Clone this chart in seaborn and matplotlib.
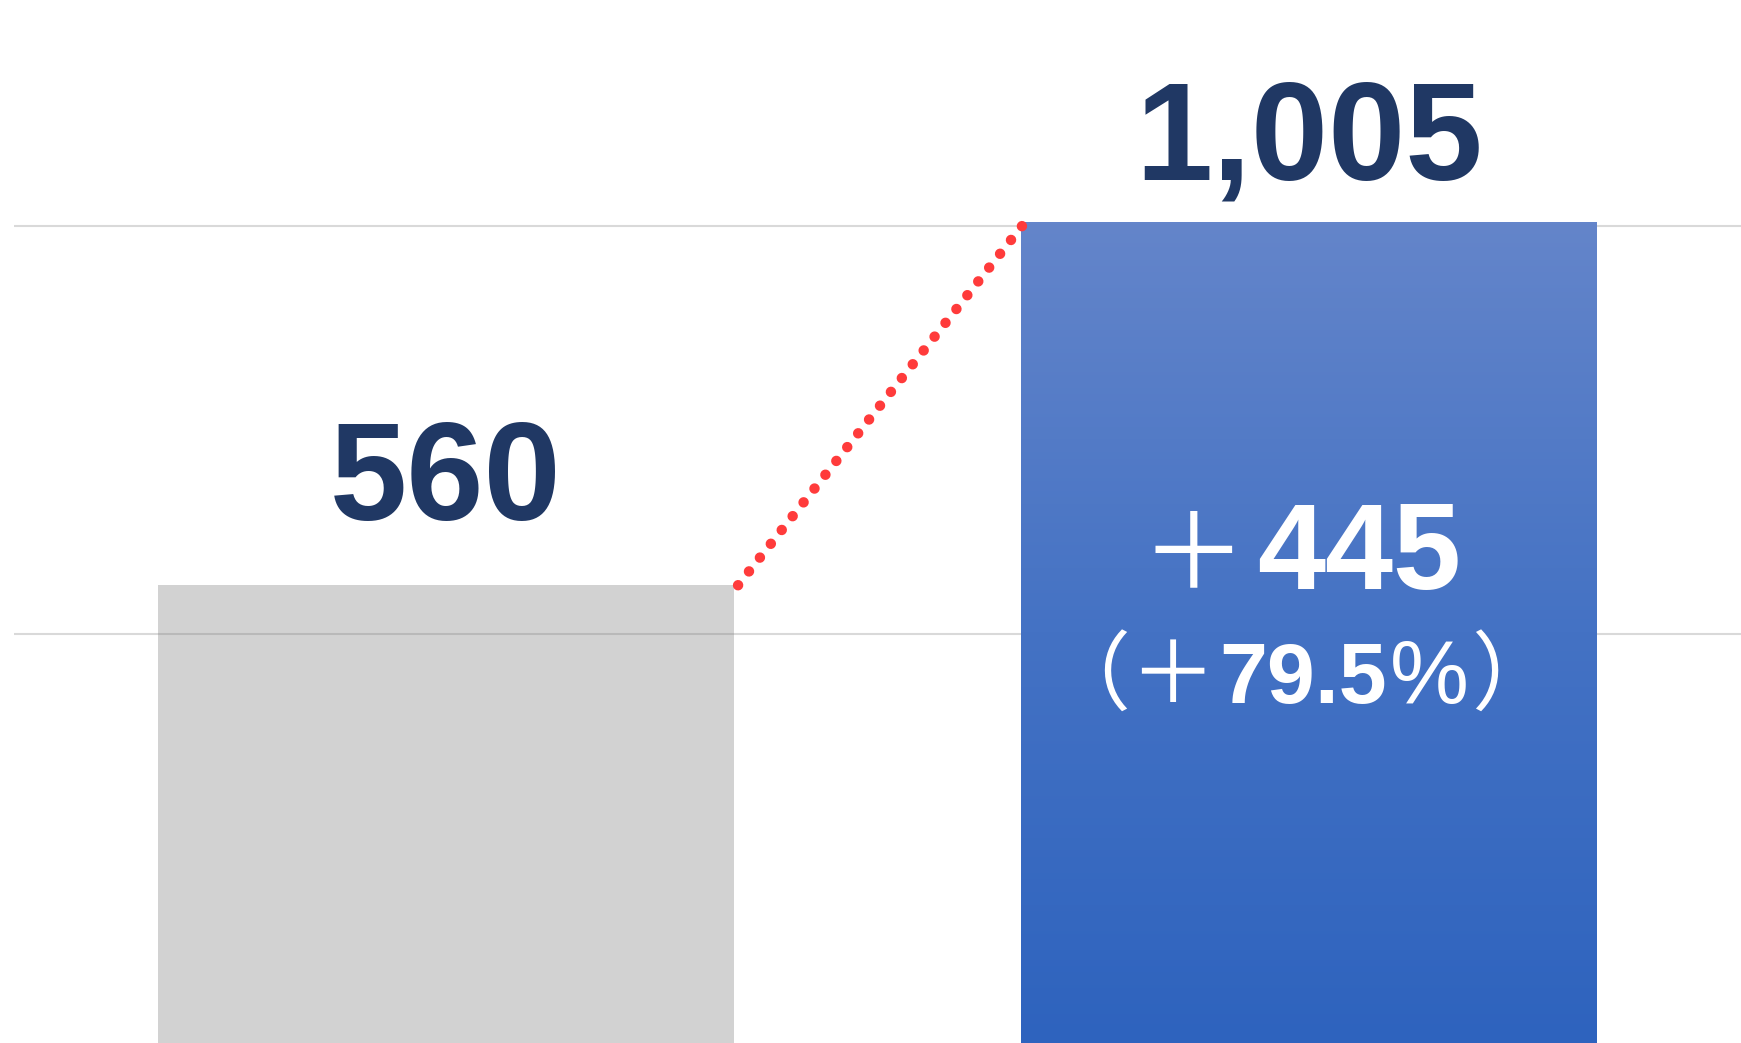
import numpy as np
import pandas as pd
import matplotlib
matplotlib.use("Agg")
import matplotlib.pyplot as plt
import seaborn as sns
from matplotlib.colors import LinearSegmentedColormap
from matplotlib.offsetbox import TextArea, HPacker, AnnotationBbox

# data
categories = ["前年", "今年"]
values = [560, 1005]
value_labels = ["560", "1,005"]

diff = values[1] - values[0]
pct = diff / values[0] * 100

NAVY = "#203864"
RED = "#FF3B3B"
GRID = "#D9D9D9"
DIGIT_FONT = ["Liberation Sans", "DejaVu Sans"]
JP_FONT = ["Noto Sans CJK JP", "DejaVu Sans"]

sns.set_theme(style="white")

fig = plt.figure(figsize=(17.41, 10.43), dpi=100)
ax = fig.add_axes([14 / 1741, 0, 1 - 14 / 1741, 1])

df = pd.DataFrame({"category": categories, "value": values})

sns.barplot(
    data=df,
    x="category",
    y="value",
    hue="category",
    palette=["#808080", "#4472C4"],
    width=0.667,
    legend=False,
    ax=ax
)

gray_bar, blue_bar = ax.patches[0], ax.patches[1]

# gray bar semi transparent so the grid shows through
gray_bar.set_facecolor("#808080")
gray_bar.set_alpha(0.35)
gray_bar.set_edgecolor("none")

# gradient fill for the blue bar
cmap = LinearSegmentedColormap.from_list("bluegrad", ["#2E63BE", "#4472C4", "#6485CA"])
bx0 = blue_bar.get_x()
bx1 = bx0 + blue_bar.get_width()
bh = blue_bar.get_height()
blue_bar.set_facecolor("none")
blue_bar.set_edgecolor("none")
grad = np.linspace(0, 1, 256).reshape(-1, 1)
img = ax.imshow(
    grad,
    cmap=cmap,
    origin="lower",
    extent=(bx0, bx1, 0, bh),
    aspect="auto",
    zorder=3
)
img.set_clip_path(blue_bar)

ax.set_xlim(-0.5, 1.5)
ax.set_ylim(0, 1276)

ax.set_yticks([500, 1000])
ax.yaxis.grid(True, color=GRID, linewidth=1.5)
ax.set_axisbelow(True)
ax.set_xticks([])
ax.tick_params(left=False, labelleft=False)
ax.set_xlabel("")
ax.set_ylabel("")
sns.despine(ax=ax, left=True, bottom=True)

# dotted connector
gx1 = gray_bar.get_x() + gray_bar.get_width()
ax.plot(
    [gx1 + 0.005, bx0 + 0.005],
    [values[0], values[1]],
    color=RED,
    linewidth=7.5,
    linestyle=(0, (0.01, 1.68)),
    dash_capstyle="round",
    zorder=5
)

# value labels
offsets = [47, 30]
for i, (v, lab) in enumerate(zip(values, value_labels)):
    ax.annotate(
        lab,
        xy=(i, v),
        xytext=(0, offsets[i]),
        textcoords="offset points",
        ha="center",
        va="baseline",
        fontsize=100,
        fontweight="bold",
        color=NAVY,
        family=DIGIT_FONT
    )

# difference labels inside blue bar
def part(text, size, bold, jp=False):
    return TextArea(
        text,
        textprops=dict(
            fontsize=size,
            fontweight="bold" if bold else "normal",
            color="white",
            family=JP_FONT if jp else DIGIT_FONT
        )
    )

line1 = HPacker(
    children=[part("＋", 76, False, jp=True), part(f"{diff:,}", 88, True)],
    align="baseline",
    pad=0,
    sep=8
)
line2 = HPacker(
    children=[
        part("（＋", 62, False, jp=True),
        part(f"{pct:.1f}", 62, True),
        part("%", 64, False),
        part("）", 62, False, jp=True)
    ],
    align="baseline",
    pad=0,
    sep=2
)

for box, y in [(line1, 595), (line2, 446)]:
    ab = AnnotationBbox(
        box,
        (0.99, y),
        xycoords="data",
        frameon=False,
        box_alignment=(0.5, 0.5),
        zorder=6
    )
    ax.add_artist(ab)

fig.savefig("out.png", dpi=100)
